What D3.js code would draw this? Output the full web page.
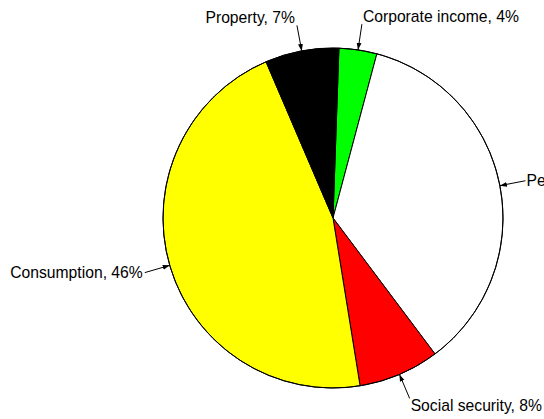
<!DOCTYPE html>
<html>
<head>
<meta charset="utf-8">
<script src="https://cdn.jsdelivr.net/npm/d3@7/dist/d3.min.js"></script>
<style>
  html, body { margin: 0; padding: 0; background: #fff; overflow: hidden; }
  svg { display: block; }
  text { font-family: "Liberation Sans", Arial, Helvetica, sans-serif; font-size: 15.7px; fill: #000; }
</style>
</head>
<body>
<svg id="chart" width="544" height="419"></svg>
<script>
const categories = ["Corporate income", "Personal income", "Social security", "Consumption", "Property"];
const values = [3.6, 35.6, 7.7, 46.1, 7.0];
const colors = ["#00ff00", "#ffffff", "#ff0000", "#ffff00", "#000000"];

const W = 544, H = 419;
const cx = 333, cy = 218, R = 170, Rlab = 196;
const startDeg = 2.0;

const svg = d3.select("#chart");
const defs = svg.append("defs");
defs.append("marker")
  .attr("id", "ah")
  .attr("viewBox", "0 0 10 10")
  .attr("refX", 10).attr("refY", 5)
  .attr("markerWidth", 7).attr("markerHeight", 7)
  .attr("markerUnits", "userSpaceOnUse")
  .attr("orient", "auto")
  .append("path").attr("d", "M0,1.5 L10,5 L0,8.5 Z").attr("fill", "#000");

const total = d3.sum(values);
const data = categories.map((c, i) => ({ name: c, value: values[i], color: colors[i] }));
const start = startDeg * Math.PI / 180;
const pie = d3.pie().value(d => d.value).sort(null).startAngle(start).endAngle(start + 2 * Math.PI);
const arcs = pie(data);
const arc = d3.arc().innerRadius(0).outerRadius(R);

const g = svg.append("g").attr("transform", `translate(${cx},${cy})`);
g.selectAll("path.slice").data(arcs).join("path")
  .attr("class", "slice")
  .attr("d", arc)
  .attr("fill", d => d.data.color)
  .attr("stroke", "#000")
  .attr("stroke-width", 1)
  .attr("stroke-linejoin", "round");

g.append("circle").attr("r", R).attr("fill", "none").attr("stroke", "#000").attr("stroke-width", 1);

arcs.forEach(d => {
  const a = (d.startAngle + d.endAngle) / 2;
  const s = Math.sin(a), c = Math.cos(a);
  const tip = [R * s, -R * c];
  const tail = [Rlab * s, -Rlab * c];
  g.append("line")
    .attr("x1", tail[0]).attr("y1", tail[1])
    .attr("x2", tip[0]).attr("y2", tip[1])
    .attr("stroke", "#000").attr("stroke-width", 1)
    .attr("marker-end", "url(#ah)");
  const pct = Math.round(d.data.value / total * 100);
  let x, y, anchor;
  if (s >= 0) { anchor = "start"; x = tail[0] + 1; } else { anchor = "end"; x = tail[0] - 2; }
  if (c > 0.7) y = tail[1] - 2.5;
  else if (c < -0.7) y = tail[1] + 12.5;
  else y = tail[1] + 5;
  g.append("text")
    .attr("x", x).attr("y", y)
    .attr("text-anchor", anchor)
    .text(`${d.data.name}, ${pct}%`);
});
</script>
</body>
</html>
